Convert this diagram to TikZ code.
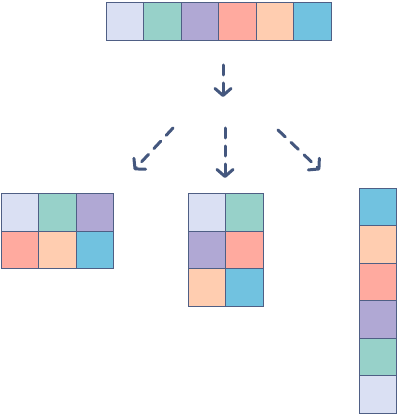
\documentclass[tikz,border=0pt]{standalone}
\usetikzlibrary{arrows.meta}
\definecolor{cA}{HTML}{DAE0F3}
\definecolor{cB}{HTML}{97D1C9}
\definecolor{cC}{HTML}{B0A8D4}
\definecolor{cD}{HTML}{FFAA9F}
\definecolor{cE}{HTML}{FFCDB0}
\definecolor{cF}{HTML}{71C2E0}
\definecolor{edge}{HTML}{4F5F85}
\definecolor{arr}{HTML}{44577E}
\begin{document}
\begin{tikzpicture}[x=1pt,y=-1pt,
  cell/.style={draw=edge,line width=0.8pt,minimum width=37.5pt,minimum height=37.5pt,inner sep=0pt,outer sep=0pt,anchor=north west},
  flow/.style={draw=arr,line width=3pt,dash pattern=on 10pt off 8pt,line cap=round,-{Straight Barb[length=7pt,width=16pt,line cap=round,line join=round]}}]
\useasboundingbox (0,0) rectangle (400,414);
% top row
\node[cell,fill=cA] (t1) at (106,2.5) {};
\node[cell,fill=cB] (t2) at (143.5,2.5) {};
\node[cell,fill=cC] (t3) at (181,2.5) {};
\node[cell,fill=cD] (t4) at (218.5,2.5) {};
\node[cell,fill=cE] (t5) at (256,2.5) {};
\node[cell,fill=cF] (t6) at (293.5,2.5) {};
% left grid 2x3
\node[cell,fill=cA] (l1) at (1,193.5) {};
\node[cell,fill=cB] (l2) at (38.5,193.5) {};
\node[cell,fill=cC] (l3) at (76,193.5) {};
\node[cell,fill=cD] (l4) at (1,231) {};
\node[cell,fill=cE] (l5) at (38.5,231) {};
\node[cell,fill=cF] (l6) at (76,231) {};
% middle grid 3x2
\node[cell,fill=cA] (m1) at (188,193.5) {};
\node[cell,fill=cB] (m2) at (225.5,193.5) {};
\node[cell,fill=cC] (m3) at (188,231) {};
\node[cell,fill=cD] (m4) at (225.5,231) {};
\node[cell,fill=cE] (m5) at (188,268.5) {};
\node[cell,fill=cF] (m6) at (225.5,268.5) {};
% right column
\node[cell,fill=cF] (r1) at (359,188) {};
\node[cell,fill=cE] (r2) at (359,225.5) {};
\node[cell,fill=cD] (r3) at (359,263) {};
\node[cell,fill=cC] (r4) at (359,300.5) {};
\node[cell,fill=cB] (r5) at (359,338) {};
\node[cell,fill=cA] (r6) at (359,375.5) {};
% arrows
\coordinate (a0) at (223,65);
\coordinate (a1) at (223,97);
\coordinate (b0) at (173,128);
\coordinate (b1) at (134,170);
\coordinate (c0) at (225,128);
\coordinate (c1) at (225,178);
\coordinate (d0) at (278,130);
\coordinate (d1) at (320,170);
\draw[flow] (a0) -- (a1);
\draw[flow] (b0) -- (b1);
\draw[flow] (c0) -- (c1);
\draw[flow] (d0) -- (d1);
\end{tikzpicture}
\end{document}
